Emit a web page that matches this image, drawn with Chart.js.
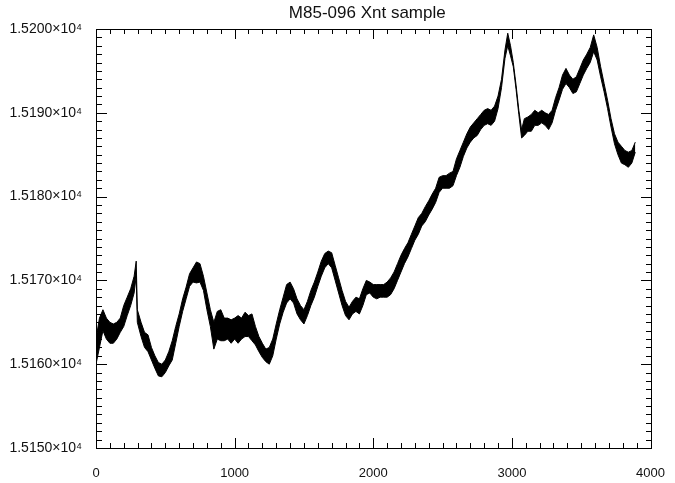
<!DOCTYPE html>
<html>
<head>
<meta charset="utf-8">
<script src="https://cdn.jsdelivr.net/npm/chart.js@4"></script>
<style>
  html, body { margin: 0; padding: 0; background: #fff; }
  #wrap { width: 675px; height: 483px; }
</style>
</head>
<body>
<div id="wrap"><canvas id="xntChart" width="675" height="483"></canvas></div>
<script>
// sample index along the x axis
const sampleIndex = [
  0, 25, 50, 75, 100, 125, 150, 175, 200, 225, 250, 275, 290, 298, 325, 350, 375, 400, 425, 450,
  475, 500, 525, 550, 575, 600, 625, 650, 675, 700, 725, 750, 775, 800, 825, 850, 875, 900, 925, 950,
  975, 1000, 1025, 1050, 1075, 1100, 1125, 1150, 1175, 1200, 1225, 1250, 1275, 1300, 1325, 1350, 1375, 1400, 1425, 1450,
  1475, 1500, 1525, 1550, 1575, 1600, 1625, 1650, 1675, 1700, 1725, 1750, 1775, 1800, 1825, 1850, 1875, 1900, 1925, 1950,
  1975, 2000, 2025, 2050, 2075, 2100, 2125, 2150, 2175, 2200, 2225, 2250, 2275, 2300, 2325, 2350, 2375, 2400, 2425, 2450,
  2475, 2500, 2525, 2550, 2575, 2600, 2625, 2650, 2675, 2700, 2725, 2750, 2775, 2800, 2825, 2850, 2875, 2900, 2925, 2950,
  2970, 2990, 3010, 3030, 3050, 3070, 3090, 3115, 3140, 3165, 3190, 3215, 3240, 3265, 3290, 3315, 3340, 3365, 3390, 3415,
  3440, 3465, 3490, 3515, 3540, 3565, 3590, 3615, 3640, 3665, 3690, 3715, 3740, 3765, 3790, 3815, 3840, 3865, 3890
];

// top of the noisy band
const upperValues = [
  15163.0, 15165.5, 15166.5, 15165.5, 15165.0, 15164.8, 15165.0, 15165.5, 15167.0, 15168.0, 15169.0, 15170.5, 15172.3, 15166.5, 15165.0, 15163.8, 15163.5, 15162.0, 15161.0, 15160.2,
  15160.0, 15160.5, 15161.5, 15162.8, 15164.5, 15166.0, 15167.8, 15169.2, 15170.8, 15171.5, 15172.2, 15172.0, 15170.5, 15168.5, 15166.5, 15165.0, 15166.3, 15166.5, 15165.5, 15165.5,
  15165.3, 15165.5, 15165.8, 15165.5, 15166.2, 15165.8, 15166.0, 15164.5, 15163.3, 15162.5, 15161.8, 15162.0, 15163.0, 15164.8, 15166.5, 15168.0, 15169.5, 15169.8, 15169.0, 15167.8,
  15167.0, 15166.5, 15167.5, 15168.8, 15169.8, 15171.0, 15172.3, 15173.2, 15173.5, 15173.3, 15171.8, 15170.3, 15168.8, 15167.5, 15166.8, 15167.5, 15168.0, 15167.8, 15169.0, 15170.0,
  15169.8, 15169.5, 15169.5, 15169.5, 15169.5, 15169.8, 15170.3, 15171.0, 15172.0, 15173.0, 15173.8, 15174.5, 15175.5, 15176.5, 15177.5, 15178.0, 15178.8, 15179.5, 15180.3, 15181.0,
  15182.3, 15182.5, 15182.5, 15182.8, 15183.0, 15184.5, 15185.5, 15186.5, 15187.5, 15188.3, 15188.8, 15189.3, 15189.8, 15190.3, 15190.5, 15190.3, 15190.8, 15192.0, 15194.0, 15197.5,
  15199.5, 15198.0, 15196.0, 15193.3, 15190.3, 15188.0, 15189.3, 15189.5, 15189.8, 15190.3, 15190.0, 15190.3, 15190.0, 15189.8, 15190.3, 15191.8, 15193.0, 15194.5, 15195.3, 15194.5,
  15194.0, 15194.3, 15195.3, 15196.3, 15197.0, 15197.8, 15199.3, 15197.8, 15195.5, 15193.5, 15191.5, 15189.3, 15187.5, 15186.5, 15186.0, 15185.5, 15185.3, 15185.5, 15186.5
];

// bottom of the noisy band
const lowerValues = [
  15160.0, 15162.0, 15164.0, 15163.0, 15162.5, 15162.5, 15163.0, 15163.8, 15164.5, 15165.8, 15167.0, 15168.5, 15170.5, 15165.0, 15163.3, 15162.0, 15161.5, 15160.5, 15159.5, 15158.6,
  15158.5, 15159.0, 15159.8, 15160.5, 15162.5, 15164.5, 15166.3, 15167.8, 15169.3, 15169.8, 15169.7, 15169.8, 15168.8, 15166.5, 15164.5, 15161.8, 15163.0, 15162.8, 15162.8, 15163.0,
  15162.5, 15163.0, 15162.5, 15163.0, 15163.3, 15163.3, 15162.8, 15162.3, 15161.5, 15160.8, 15160.3, 15160.0, 15161.0, 15163.0, 15164.8, 15166.2, 15167.3, 15167.8, 15167.3, 15166.0,
  15165.3, 15164.8, 15165.8, 15167.0, 15168.0, 15169.3, 15170.5, 15171.5, 15172.0, 15171.5, 15170.0, 15168.5, 15167.0, 15165.8, 15165.3, 15166.0, 15166.3, 15166.0, 15167.0, 15168.3,
  15168.5, 15168.0, 15167.8, 15168.0, 15168.0, 15168.0, 15168.3, 15169.0, 15170.0, 15171.0, 15172.0, 15172.8, 15173.8, 15174.8, 15175.5, 15176.5, 15177.0, 15177.8, 15178.5, 15179.3,
  15180.5, 15181.0, 15181.0, 15181.0, 15181.3, 15182.5, 15183.5, 15184.8, 15185.8, 15186.5, 15187.0, 15187.3, 15188.0, 15188.5, 15188.7, 15188.5, 15189.0, 15190.5, 15193.0, 15196.5,
  15198.0, 15196.8, 15195.5, 15192.8, 15189.8, 15187.0, 15187.3, 15187.8, 15187.8, 15188.5, 15188.5, 15188.8, 15188.5, 15188.0, 15188.8, 15190.3, 15191.5, 15192.8, 15193.5, 15193.0,
  15192.3, 15192.5, 15193.5, 15194.5, 15195.3, 15196.0, 15197.3, 15196.3, 15194.3, 15192.5, 15190.5, 15188.3, 15186.3, 15185.0, 15184.0, 15183.8, 15183.5, 15184.0, 15185.3
];

const xTickLabels = [0, 1000, 2000, 3000, 4000];
const yTickLabels = [15150, 15160, 15170, 15180, 15190, 15200];
const chartTitle = 'M85-096 Xnt sample';

const toPoints = vals => sampleIndex.map((x, i) => ({ x: x, y: vals[i] }));

// IDL style frame: box, inward ticks on all four sides, title over the box
const idlFrame = {
  id: 'idlFrame',
  afterDraw(chart) {
    const c = chart.ctx;
    const a = chart.chartArea;
    const xs = chart.scales.x, ys = chart.scales.y;
    const L = Math.round(a.left), R = Math.round(a.right);
    const T = Math.round(a.top), B = Math.round(a.bottom);
    c.save();
    c.fillStyle = '#000';
    // box
    c.fillRect(L, T, R - L + 1, 1);
    c.fillRect(L, B, R - L + 1, 1);
    c.fillRect(L, T, 1, B - T + 1);
    c.fillRect(R, T, 1, B - T + 1);
    // x ticks every 100
    for (let v = 0; v <= 4000; v += 100) {
      const px = Math.round(xs.getPixelForValue(v));
      const len = v % 1000 === 0 ? 10 : 5;
      c.fillRect(px, B - len, 1, len);
      c.fillRect(px, T, 1, len);
    }
    // y ticks every 1
    for (let v = 15150; v <= 15200; v += 1) {
      const py = Math.round(ys.getPixelForValue(v));
      const len = v % 10 === 0 ? 11 : 6;
      c.fillRect(L, py, len, 1);
      c.fillRect(R - len + 1, py, len, 1);
    }
    // title
    c.fillStyle = '#111';
    c.font = '17px "Liberation Sans"';
    c.textAlign = 'center';
    c.textBaseline = 'middle';
    c.fillText(chartTitle, (a.left + a.right) / 2 - 6, 13);
    c.restore();
  }
};

const ctx = document.getElementById('xntChart').getContext('2d');
new Chart(ctx, {
  type: 'line',
  data: {
    datasets: [
      {
        data: toPoints(upperValues),
        borderColor: '#000',
        borderWidth: 1,
        pointRadius: 0,
        fill: false
      },
      {
        data: toPoints(lowerValues),
        borderColor: '#000',
        borderWidth: 1,
        pointRadius: 0,
        backgroundColor: '#000',
        fill: '-1'
      }
    ]
  },
  plugins: [idlFrame],
  options: {
    responsive: false,
    animation: false,
    layout: { padding: { left: 0, right: 19, top: 29, bottom: 0 } },
    plugins: {
      legend: { display: false },
      tooltip: { enabled: false },
      title: { display: false }
    },
    scales: {
      x: {
        type: 'linear',
        min: 0,
        max: 4000,
        grid: { display: false },
        border: { display: false },
        afterFit: s => { s.height = 35; },
        afterBuildTicks: s => { s.ticks = xTickLabels.map(v => ({ value: v })); },
        ticks: {
          color: '#111',
          font: { family: 'Liberation Sans', size: 13 },
          padding: 10,
          maxRotation: 0,
          autoSkip: false,
          callback: v => String(v)
        }
      },
      y: {
        min: 15150,
        max: 15200,
        grid: { display: false },
        border: { display: false },
        afterFit: s => { s.width = 96; },
        afterBuildTicks: s => { s.ticks = yTickLabels.map(v => ({ value: v })); },
        ticks: {
          color: '#111',
          font: { family: 'Liberation Sans', size: 14 },
          padding: 6,
          callback: v => (v / 10000).toFixed(4) + '×10⁴'
        }
      }
    }
  }
});
</script>
</body>
</html>
